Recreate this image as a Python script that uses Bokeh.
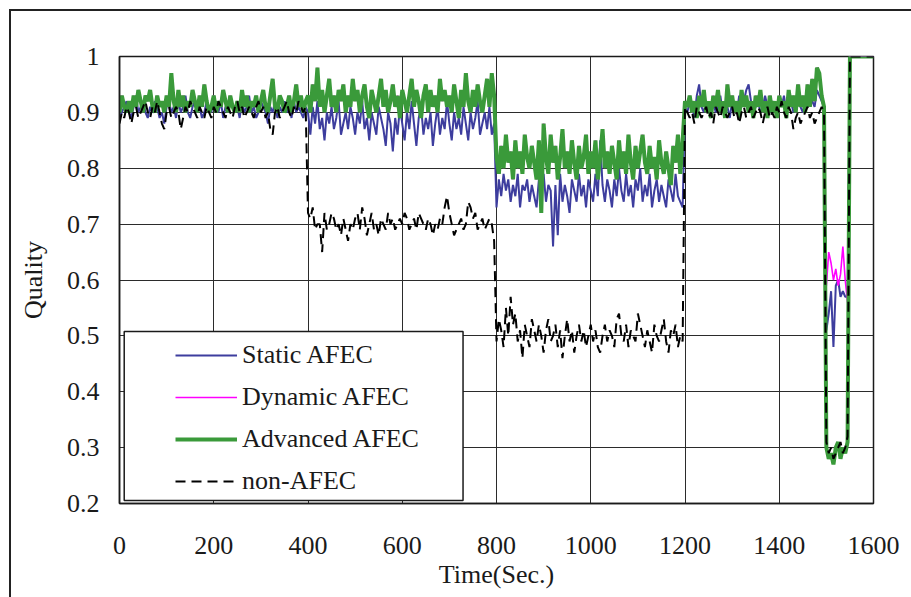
from bokeh.plotting import figure
from bokeh.models import Range1d, FixedTicker, Legend, LegendItem, BoxAnnotation, Label
from bokeh.embed import file_html
from bokeh.resources import INLINE

# ---- data -------------------------------------------------------------
time_sec = list(range(0, 1605, 5))

static_afec = [
    # 0-395
    0.89, 0.90, 0.91, 0.92, 0.90, 0.89, 0.91, 0.93, 0.90, 0.91,
    0.92, 0.90, 0.89, 0.91, 0.90, 0.92, 0.91, 0.89, 0.90, 0.88,
    0.91, 0.92, 0.90, 0.91, 0.89, 0.92, 0.90, 0.91, 0.93, 0.90,
    0.89, 0.91, 0.92, 0.90, 0.91, 0.89, 0.90, 0.92, 0.91, 0.90,
    0.93, 0.91, 0.90, 0.92, 0.89, 0.91, 0.90, 0.92, 0.91, 0.90,
    0.91, 0.89, 0.92, 0.90, 0.91, 0.93, 0.90, 0.91, 0.89, 0.90,
    0.92, 0.91, 0.90, 0.88, 0.91, 0.90, 0.92, 0.89, 0.91, 0.90,
    0.92, 0.90, 0.91, 0.89, 0.92, 0.90, 0.91, 0.90, 0.89, 0.91,
    # 400-795
    0.90, 0.86, 0.91, 0.88, 0.92, 0.87, 0.89, 0.85, 0.90, 0.88,
    0.91, 0.87, 0.89, 0.92, 0.86, 0.88, 0.90, 0.87, 0.91, 0.89,
    0.86, 0.90, 0.88, 0.92, 0.87, 0.89, 0.85, 0.90, 0.88, 0.86,
    0.91, 0.89, 0.87, 0.84, 0.90, 0.88, 0.83, 0.89, 0.86, 0.91,
    0.88, 0.85, 0.90, 0.87, 0.92, 0.88, 0.84, 0.89, 0.91, 0.86,
    0.89, 0.87, 0.90, 0.84, 0.88, 0.91, 0.86, 0.89, 0.87, 0.92,
    0.88, 0.85, 0.90, 0.87, 0.89, 0.86, 0.91, 0.88, 0.85, 0.90,
    0.87, 0.89, 0.92, 0.86, 0.88, 0.90, 0.87, 0.91, 0.86, 0.88,
    # 800-1195
    0.73, 0.78, 0.75, 0.79, 0.76, 0.78, 0.74, 0.77, 0.75, 0.79,
    0.73, 0.77, 0.76, 0.78, 0.74, 0.77, 0.75, 0.73, 0.78, 0.76,
    0.79, 0.74, 0.77, 0.76, 0.66, 0.77, 0.68, 0.79, 0.74, 0.77,
    0.75, 0.72, 0.78, 0.76, 0.74, 0.79, 0.75, 0.77, 0.73, 0.78,
    0.76, 0.74, 0.79, 0.75, 0.85, 0.77, 0.74, 0.78, 0.76, 0.73,
    0.78, 0.75, 0.80, 0.76, 0.74, 0.79, 0.75, 0.77, 0.73, 0.78,
    0.76, 0.80, 0.74, 0.77, 0.75, 0.79, 0.73, 0.76, 0.78, 0.74,
    0.77, 0.75, 0.73, 0.78, 0.76, 0.74, 0.79, 0.75, 0.74, 0.73,
    # 1200-1495
    0.91, 0.90, 0.92, 0.91, 0.89, 0.93, 0.95, 0.91, 0.90, 0.92,
    0.91, 0.89, 0.92, 0.90, 0.91, 0.93, 0.90, 0.92, 0.91, 0.89,
    0.92, 0.91, 0.90, 0.93, 0.91, 0.92, 0.94, 0.95, 0.92, 0.90,
    0.91, 0.92, 0.90, 0.91, 0.93, 0.91, 0.90, 0.92, 0.91, 0.90,
    0.92, 0.91, 0.93, 0.90, 0.91, 0.92, 0.90, 0.91, 0.92, 0.91,
    0.90, 0.92, 0.91, 0.93, 0.92, 0.91, 0.94, 0.93, 0.92, 0.91,
    # 1500-1545
    0.51, 0.54, 0.58, 0.48, 0.59, 0.60, 0.57, 0.58, 0.57, 0.57,
    # 1550-1600
    1.0, 1.0, 1.0, 1.0, 1.0, 1.0, 1.0, 1.0, 1.0, 1.0, 1.0,
]

advanced_afec = [
    # 0-395
    0.90, 0.93, 0.91, 0.90, 0.92, 0.90, 0.93, 0.91, 0.94, 0.92,
    0.90, 0.93, 0.92, 0.94, 0.91, 0.90, 0.93, 0.91, 0.92, 0.90,
    0.93, 0.91, 0.97, 0.92, 0.90, 0.94, 0.91, 0.93, 0.90, 0.92,
    0.91, 0.94, 0.92, 0.90, 0.93, 0.91, 0.95, 0.92, 0.90, 0.91,
    0.93, 0.90, 0.92, 0.91, 0.94, 0.92, 0.90, 0.93, 0.91, 0.90,
    0.92, 0.90, 0.94, 0.91, 0.93, 0.90, 0.92, 0.91, 0.93, 0.90,
    0.92, 0.94, 0.91, 0.90, 0.93, 0.96, 0.91, 0.90, 0.93, 0.92,
    0.90, 0.91, 0.93, 0.90, 0.92, 0.95, 0.91, 0.93, 0.90, 0.92,
    # 400-795
    0.93, 0.90, 0.95, 0.92, 0.98, 0.91, 0.94, 0.90, 0.93, 0.96,
    0.91, 0.93, 0.90, 0.94, 0.92, 0.95, 0.90, 0.93, 0.91, 0.96,
    0.92, 0.94, 0.90, 0.93, 0.95, 0.91, 0.89, 0.94, 0.92, 0.90,
    0.93, 0.96, 0.91, 0.94, 0.90, 0.92, 0.95, 0.91, 0.93, 0.89,
    0.94, 0.92, 0.90, 0.93, 0.96, 0.91, 0.94, 0.92, 0.89, 0.93,
    0.95, 0.90, 0.94, 0.91, 0.93, 0.90, 0.96, 0.92, 0.94, 0.91,
    0.93, 0.90, 0.95, 0.92, 0.89, 0.94, 0.91, 0.97, 0.92, 0.90,
    0.94, 0.91, 0.95, 0.92, 0.90, 0.93, 0.96, 0.91, 0.97, 0.93,
    # 800-1195
    0.82, 0.79, 0.84, 0.80, 0.86, 0.81, 0.83, 0.78, 0.85, 0.80,
    0.83, 0.79, 0.86, 0.82, 0.80, 0.84, 0.81, 0.78, 0.85, 0.72,
    0.88, 0.82, 0.79, 0.86, 0.81, 0.84, 0.78, 0.82, 0.87, 0.80,
    0.83, 0.79, 0.85, 0.81, 0.78, 0.84, 0.80, 0.82, 0.86, 0.79,
    0.83, 0.80, 0.85, 0.78, 0.82, 0.87, 0.80, 0.83, 0.79, 0.84,
    0.81, 0.78, 0.85, 0.80, 0.83, 0.79, 0.86, 0.81, 0.78, 0.84,
    0.80, 0.83, 0.86, 0.81, 0.79, 0.84, 0.80, 0.82, 0.78, 0.85,
    0.81, 0.79, 0.83, 0.80, 0.77, 0.84, 0.81, 0.86, 0.79, 0.85,
    # 1200-1495
    0.92, 0.91, 0.93, 0.90, 0.92, 0.89, 0.93, 0.91, 0.94, 0.90,
    0.92, 0.89, 0.93, 0.91, 0.94, 0.90, 0.92, 0.89, 0.95, 0.91,
    0.93, 0.90, 0.92, 0.89, 0.94, 0.91, 0.93, 0.90, 0.92, 0.89,
    0.93, 0.91, 0.94, 0.90, 0.92, 0.89, 0.93, 0.90, 0.92, 0.89,
    0.93, 0.91, 0.92, 0.89, 0.94, 0.91, 0.93, 0.90, 0.95, 0.91,
    0.93, 0.90, 0.95, 0.91, 0.96, 0.92, 0.98, 0.97, 0.93, 0.91,
    # 1500-1545
    0.30, 0.28, 0.29, 0.27, 0.30, 0.31, 0.28, 0.30, 0.29, 0.31,
    # 1550-1600
    1.0, 1.0, 1.0, 1.0, 1.0, 1.0, 1.0, 1.0, 1.0, 1.0, 1.0,
]

# Dynamic AFEC follows Advanced AFEC except during the 1500-1545 s outage
dynamic_outage = [0.59, 0.65, 0.63, 0.60, 0.62, 0.59, 0.61, 0.66, 0.60, 0.56]

non_afec = [
    # 0-395
    0.88, 0.90, 0.89, 0.91, 0.90, 0.88, 0.90, 0.91, 0.89, 0.90,
    0.91, 0.92, 0.90, 0.89, 0.91, 0.90, 0.92, 0.90, 0.88, 0.87,
    0.90, 0.91, 0.89, 0.90, 0.91, 0.90, 0.87, 0.89, 0.91, 0.90,
    0.92, 0.91, 0.90, 0.89, 0.91, 0.90, 0.89, 0.91, 0.90, 0.89,
    0.91, 0.90, 0.92, 0.91, 0.90, 0.89, 0.91, 0.90, 0.89, 0.91,
    0.92, 0.90, 0.91, 0.89, 0.90, 0.91, 0.90, 0.89, 0.91, 0.92,
    0.90, 0.91, 0.89, 0.90, 0.87, 0.86, 0.90, 0.91, 0.89, 0.90,
    0.91, 0.92, 0.90, 0.89, 0.91, 0.90, 0.92, 0.91, 0.90, 0.91,
    # 400-795
    0.72, 0.71, 0.73, 0.69, 0.70, 0.70, 0.65, 0.72, 0.69, 0.70,
    0.72, 0.71, 0.69, 0.70, 0.68, 0.71, 0.69, 0.67, 0.70, 0.69,
    0.71, 0.72, 0.69, 0.73, 0.71, 0.68, 0.70, 0.72, 0.69, 0.70,
    0.68, 0.71, 0.70, 0.69, 0.72, 0.70, 0.71, 0.69, 0.70, 0.71,
    0.70, 0.72, 0.71, 0.69, 0.70, 0.71, 0.69, 0.72, 0.71, 0.70,
    0.69, 0.71, 0.70, 0.68, 0.70, 0.69, 0.71, 0.70, 0.73, 0.75,
    0.72, 0.70, 0.68, 0.69, 0.70, 0.71, 0.69, 0.70, 0.74, 0.73,
    0.71, 0.72, 0.69, 0.70, 0.71, 0.69, 0.70, 0.71, 0.70, 0.67,
    # 800-1195
    0.49, 0.53, 0.51, 0.48, 0.55, 0.50, 0.57, 0.52, 0.54, 0.49,
    0.51, 0.46, 0.52, 0.50, 0.48, 0.53, 0.51, 0.49, 0.52, 0.50,
    0.47, 0.51, 0.53, 0.49, 0.50, 0.52, 0.48, 0.51, 0.46, 0.50,
    0.53, 0.49, 0.51, 0.47, 0.50, 0.52, 0.49, 0.51, 0.48, 0.50,
    0.52, 0.49, 0.51, 0.48, 0.47, 0.50, 0.52, 0.49, 0.51, 0.50,
    0.48, 0.53, 0.54, 0.50, 0.49, 0.52, 0.48, 0.51, 0.50, 0.49,
    0.54, 0.52, 0.50, 0.48, 0.51, 0.49, 0.47, 0.52, 0.50, 0.49,
    0.51, 0.53, 0.49, 0.47, 0.51, 0.50, 0.52, 0.48, 0.50, 0.49,
    # 1200-1495
    0.91, 0.90, 0.89, 0.90, 0.88, 0.91, 0.90, 0.89, 0.90, 0.91,
    0.89, 0.90, 0.88, 0.91, 0.90, 0.89, 0.91, 0.90, 0.89, 0.90,
    0.91, 0.89, 0.90, 0.88, 0.90, 0.91, 0.89, 0.90, 0.91, 0.89,
    0.90, 0.91, 0.90, 0.88, 0.90, 0.91, 0.89, 0.90, 0.89, 0.91,
    0.90, 0.92, 0.90, 0.89, 0.91, 0.90, 0.87, 0.89, 0.90, 0.88,
    0.89, 0.90, 0.91, 0.89, 0.90, 0.88, 0.89, 0.90, 0.91, 0.90,
    # 1500-1545
    0.31, 0.29, 0.30, 0.28, 0.29, 0.30, 0.31, 0.29, 0.30, 0.32,
    # 1550-1600
    1.0, 1.0, 1.0, 1.0, 1.0, 1.0, 1.0, 1.0, 1.0, 1.0, 1.0,
]

x_ticks = [0, 200, 400, 600, 800, 1000, 1200, 1400, 1600]
y_ticks = [0.2, 0.3, 0.4, 0.5, 0.6, 0.7, 0.8, 0.9, 1.0]
y_tick_labels = ["0.2", "0.3", "0.4", "0.5", "0.6", "0.7", "0.8", "0.9", "1"]

outage_start = time_sec.index(1500)
dynamic_afec = (advanced_afec[:outage_start] + dynamic_outage
                + advanced_afec[outage_start + len(dynamic_outage):])

for series in (static_afec, advanced_afec, dynamic_afec, non_afec):
    assert len(series) == len(time_sec), len(series)

# ---- figure -----------------------------------------------------------
FONT = "Liberation Serif"
INK = "#1a1a1a"

p = figure(
    width=911, height=597,
    x_range=Range1d(0, 1600), y_range=Range1d(0.2, 1.0),
    output_backend="svg", toolbar_location=None,
    min_border_left=119, min_border_right=38,
    min_border_top=56, min_border_bottom=94,
)
p.border_fill_alpha = 0
p.background_fill_color = "white"
p.styles = {
    "background": (
        "linear-gradient(#222,#222) 9px 9px / 2px 100% no-repeat,"
        "linear-gradient(#222,#222) 9px 9px / 100% 2px no-repeat, white"
    )
}
p.outline_line_color = INK
p.outline_line_width = 1.5

for ax in (p.xaxis[0], p.yaxis[0]):
    ax.axis_line_color = INK
    ax.axis_line_width = 1.5
    ax.major_tick_out = 0
    ax.major_tick_in = 0
    ax.minor_tick_out = 0
    ax.minor_tick_in = 0
    ax.major_label_text_font = FONT
    ax.major_label_text_font_size = "26px"
    ax.major_label_text_color = INK
    ax.axis_label_text_font = FONT
    ax.axis_label_text_font_size = "26px"
    ax.axis_label_text_font_style = "normal"
    ax.axis_label_text_color = INK

p.xaxis.ticker = FixedTicker(ticks=x_ticks)
p.yaxis.ticker = FixedTicker(ticks=y_ticks)
p.yaxis.major_label_overrides = dict(zip(y_ticks, y_tick_labels))
p.xaxis.axis_label = "Time(Sec.)"
p.yaxis.axis_label = "Quality"
p.xaxis.major_label_standoff = 33
p.xaxis.axis_label_standoff = 3
p.yaxis.major_label_standoff = 20
p.yaxis.axis_label_standoff = 16

p.grid.grid_line_color = "#2b2b2b"
p.grid.grid_line_width = 1
p.grid.grid_line_alpha = 1

r_static = p.line(time_sec, static_afec, line_color="#3d3d9e", line_width=2)
r_dynamic = p.line(time_sec, dynamic_afec, line_color="#ff00ff", line_width=1.6)
r_advanced = p.line(time_sec, advanced_afec, line_color="#3a9a3a", line_width=4)
r_non = p.line(time_sec, non_afec, line_color="black", line_width=2,
               line_dash="10 6")

p.add_layout(Label(
    x=758, y=1.0, y_offset=20, text="Performance",
    text_font=FONT, text_font_size="22px", text_color=INK,
    text_align="center", text_baseline="middle",
))

# framed legend panel
p.add_layout(BoxAnnotation(
    left=10, right=729, bottom=0.2054, top=0.508,
    fill_color="white", fill_alpha=1,
    line_color=INK, line_width=1.5, line_alpha=1,
))

legend = Legend(
    items=[
        LegendItem(label="Static AFEC", renderers=[r_static]),
        LegendItem(label="Dynamic AFEC", renderers=[r_dynamic]),
        LegendItem(label="Advanced AFEC", renderers=[r_advanced]),
        LegendItem(label="non-AFEC", renderers=[r_non]),
    ],
    location=(56, 7),
    padding=0, margin=0, spacing=12,
    glyph_width=62, glyph_height=30, label_height=30,
    label_standoff=5,
    label_text_font=FONT, label_text_font_size="26px",
    label_text_color=INK,
    border_line_alpha=0, background_fill_alpha=0,
)
p.add_layout(legend)

open("out.html", "w").write(file_html(p, INLINE))
